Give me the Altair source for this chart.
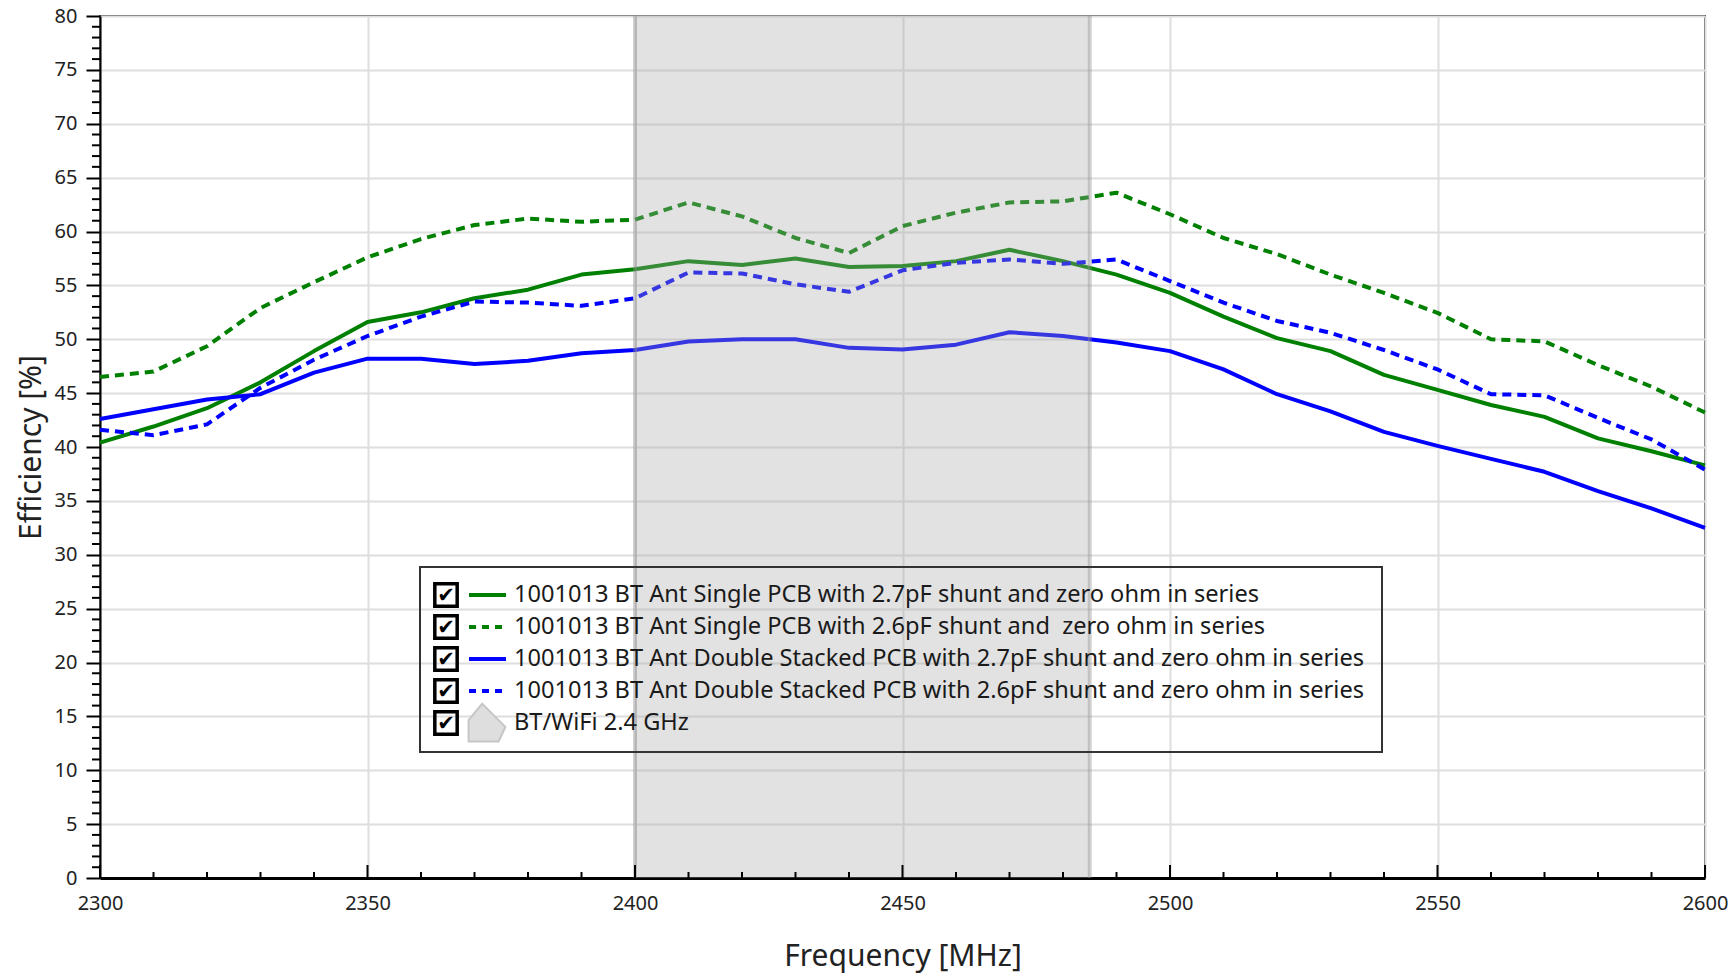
import altair as alt
import pandas as pd

# Frequency sweep (MHz) and measured efficiency (%) for each antenna build
freq = list(range(2300, 2601, 10))

single_27 = [40.4, 41.9, 43.6, 46.0, 48.9, 51.6, 52.5, 53.8, 54.6, 56.0,
             56.5, 57.25, 56.9, 57.5, 56.7, 56.8, 57.25, 58.3, 57.25, 56.0,
             54.3, 52.1, 50.1, 48.9, 46.7, 45.3, 43.9, 42.8, 40.8, 39.6, 38.3]
single_26 = [46.5, 47.0, 49.35, 52.9, 55.3, 57.6, 59.3, 60.6, 61.2, 60.9,
             61.1, 62.7, 61.4, 59.4, 58.0, 60.5, 61.75, 62.7, 62.8, 63.6,
             61.6, 59.4, 57.9, 56.0, 54.3, 52.45, 50.0, 49.8, 47.6, 45.6, 43.2]
double_27 = [42.6, 43.5, 44.4, 44.9, 46.9, 48.2, 48.2, 47.7, 48.0, 48.7,
             49.0, 49.8, 50.0, 50.0, 49.2, 49.05, 49.5, 50.65, 50.3, 49.7,
             48.9, 47.2, 44.9, 43.3, 41.4, 40.1, 38.9, 37.7, 35.9, 34.3, 32.5]
double_26 = [41.6, 41.1, 42.1, 45.5, 48.1, 50.3, 52.1, 53.5, 53.4, 53.1,
             53.8, 56.2, 56.1, 55.1, 54.4, 56.4, 57.1, 57.4, 57.0, 57.4,
             55.4, 53.4, 51.7, 50.6, 49.0, 47.2, 44.9, 44.8, 42.7, 40.7, 37.9]

series_names = [
    "1001013 BT Ant Single PCB with 2.7pF shunt and zero ohm in series",
    "1001013 BT Ant Single PCB with 2.6pF shunt and \u00a0zero ohm in series",
    "1001013 BT Ant Double Stacked PCB with 2.7pF shunt and zero ohm in series",
    "1001013 BT Ant Double Stacked PCB with 2.6pF shunt and zero ohm in series",
]
series_values = [single_27, single_26, double_27, double_26]
series_colors = ["#008000", "#008000", "#0000ff", "#0000ff"]
series_dashes = [None, [9, 6], None, [9, 6]]

# BT/WiFi band
band_label = "BT/WiFi 2.4 GHz"
band_start, band_end = 2400, 2485

# Axis ticks
x_major = list(range(2300, 2601, 50))
x_minor = [f for f in range(2300, 2601, 10) if f % 50]
y_major = list(range(0, 81, 5))
y_minor = [v for v in range(0, 81) if v % 5]

W, H = 1605, 862
FONT = "Noto Sans"

xs = alt.Scale(domain=[2300, 2600], nice=False, zero=False)
ys = alt.Scale(domain=[0, 80], nice=False)

x_axis = alt.Axis(
    values=x_major, format="d", title="Frequency [MHz]",
    labelFont=FONT, labelFontSize=20, labelColor="#222222",
    labelFlush=False, labelOverlap=False, labelPadding=15,
    ticks=False, domainColor="black", domainWidth=3,
    grid=True, gridColor="#dedede", gridWidth=2,
    titleFont=FONT, titleFontSize=30, titleFontWeight="normal",
    titleColor="#222222", titleY=78, titleBaseline="middle",
)
y_axis = alt.Axis(
    values=y_major, format="d", title="Efficiency [%]",
    labelFont=FONT, labelFontSize=20, labelColor="#222222",
    labelPadding=9, labelOverlap=False,
    tickSize=14, tickWidth=2, tickColor="black",
    domainColor="black", domainWidth=2,
    grid=True, gridColor="#dedede", gridWidth=2,
    titleFont=FONT, titleFontSize=30, titleFontWeight="normal",
    titleColor="#222222", titleAngle=270, titleX=-69, titleY=431,
    titleAlign="center", titleBaseline="middle",
)


def X(field="freq"):
    return alt.X(f"{field}:Q", scale=xs, axis=x_axis)


def Y(field="eff"):
    return alt.Y(f"{field}:Q", scale=ys, axis=y_axis)


layers = []

# measured curves
for name, vals, col, dash in zip(series_names, series_values, series_colors, series_dashes):
    df = pd.DataFrame({"freq": freq, "eff": vals})
    kw = dict(color=col, strokeWidth=4, strokeJoin="round")
    if dash:
        kw["strokeDash"] = dash
    layers.append(alt.Chart(df).mark_line(**kw).encode(x=X(), y=Y()))

# band shading laid over the curves
band_df = pd.DataFrame({"freq": [band_start], "freq_end": [band_end]})
layers.append(
    alt.Chart(band_df).mark_rect(color="#a7a7a7", opacity=0.33).encode(
        x=X(), x2=alt.X2("freq_end:Q")
    )
)
edge_df = pd.DataFrame({"freq": [band_start, band_end]})
layers.append(
    alt.Chart(edge_df).mark_rule(color="#8f8f8f", strokeWidth=4, opacity=0.4).encode(x=X())
)

# inward ticks on the frequency axis
layers.append(
    alt.Chart(pd.DataFrame({"freq": x_major})).mark_rule(color="black", strokeWidth=2).encode(
        x=X(), y=alt.value(H), y2=alt.value(H - 13)
    )
)
layers.append(
    alt.Chart(pd.DataFrame({"freq": x_minor})).mark_rule(color="black", strokeWidth=2).encode(
        x=X(), y=alt.value(H), y2=alt.value(H - 6)
    )
)
# minor ticks on the efficiency axis
layers.append(
    alt.Chart(pd.DataFrame({"eff": y_minor})).mark_rule(color="black", strokeWidth=2).encode(
        y=Y(), x=alt.value(-8), x2=alt.value(0)
    )
)

# legend panel
one = pd.DataFrame({"k": [0]})
box_l, box_r, box_t, box_b = 320, 1282, 551, 736
layers.append(
    alt.Chart(one).mark_rect(fill=None, stroke="#333333", strokeWidth=2).encode(
        x=alt.value(box_l), x2=alt.value(box_r), y=alt.value(box_t), y2=alt.value(box_b)
    )
)
row0, row_step = 579, 32
chk_x, sw_l, sw_r, txt_x = 346, 369, 406, 414
entries = list(zip(series_names, series_colors, series_dashes)) + [(band_label, None, None)]
for i, (label, col, dash) in enumerate(entries):
    ry = row0 + i * row_step
    layers.append(
        alt.Chart(one).mark_point(shape="square", size=500, filled=False,
                                  stroke="black", strokeWidth=3.5, opacity=1).encode(
            x=alt.value(chk_x), y=alt.value(ry)
        )
    )
    layers.append(
        alt.Chart(one).mark_text(text="\u2714", font="DejaVu Sans", fontSize=21,
                                 color="black", align="center", baseline="middle").encode(
            x=alt.value(chk_x), y=alt.value(ry + 1)
        )
    )
    if col is not None:
        kw = dict(color=col, strokeWidth=4)
        if dash:
            kw["strokeDash"] = [7, 6]
        layers.append(
            alt.Chart(one).mark_rule(**kw).encode(
                x=alt.value(sw_l), x2=alt.value(sw_r), y=alt.value(ry)
            )
        )
    else:
        layers.append(
            alt.Chart(one).mark_point(
                shape="M -0.95 -0.15 L -0.25 -1 L 0.95 0.2 L 0.6 0.95 L -0.95 0.95 Z",
                size=1500, filled=True, fill="#dedede", stroke="#c6c6c6",
                strokeWidth=2, opacity=1,
            ).encode(x=alt.value(387), y=alt.value(ry))
        )
    layers.append(
        alt.Chart(one).mark_text(text=label, font=FONT, fontSize=23.6, color="#1a1a1a",
                                 align="left", baseline="middle").encode(
            x=alt.value(txt_x), y=alt.value(ry)
        )
    )

chart = (
    alt.layer(*layers)
    .properties(
        width=W, height=H,
        autosize=alt.AutoSizeParams(type="none"),
        padding={"left": 100, "top": 16, "right": 30, "bottom": 95},
        background="white",
    )
    .configure_view(stroke="#3a3a3a", strokeWidth=2)
)

chart.save("out.html", embed_options={"renderer": "svg", "actions": False})
